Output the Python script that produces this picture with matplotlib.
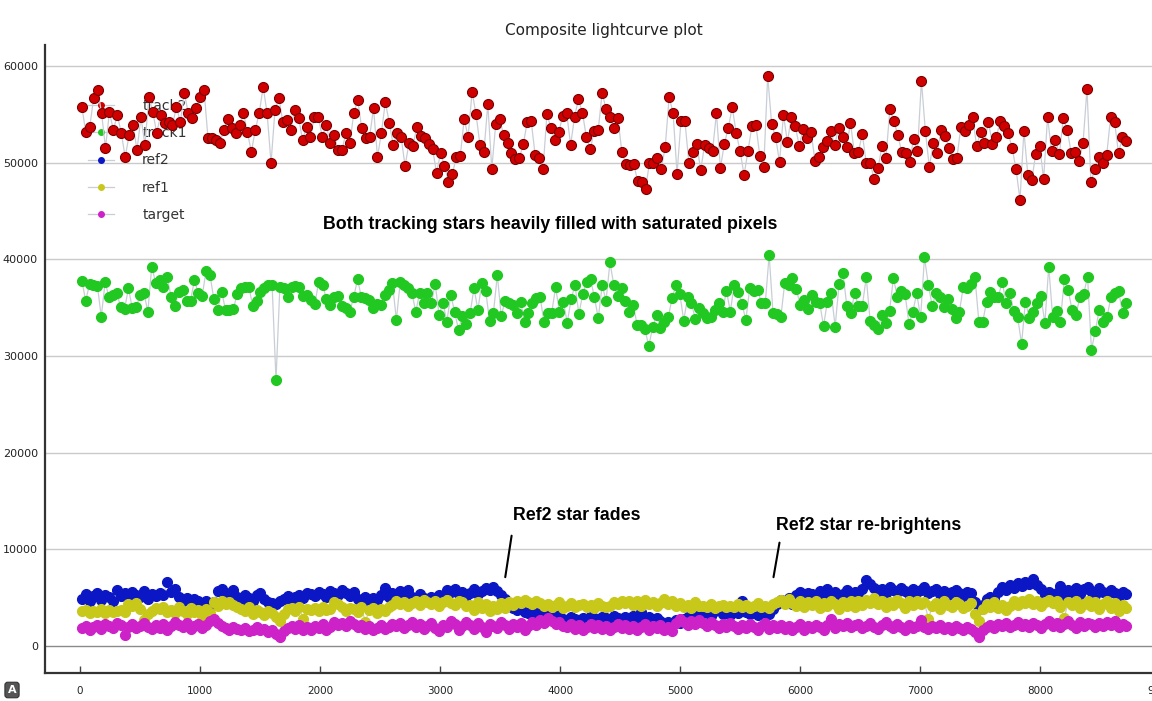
import numpy as np
import matplotlib
matplotlib.use("Agg")
import matplotlib.pyplot as plt
from matplotlib.lines import Line2D

# frame times of first / last exposure (s)
t_first, t_last = 15, 8720

track2 = [
    55760, 53170, 53690, 56690, 57520, 55140, 51520, 55240, 53380, 54930,
    53070, 50580, 52860, 53900, 51310, 54720, 51830, 56790, 55240, 53070,
    54930, 54100, 54200, 53900, 55760, 54200, 57200, 55140, 54620, 55650,
    56790, 57520, 52550, 52550, 52340, 52030, 53380, 54510, 53580, 53070,
    53900, 55140, 53170, 51100, 53380, 55140, 57820, 55140, 49960, 55450,
    56690, 54200, 54410, 53380, 55450, 54620, 52340, 53690, 52650, 54720,
    54720, 52650, 53900, 52030, 52860, 51310, 51310, 53070, 52030, 55140,
    56480, 53580, 52550, 52650, 55650, 50580, 53070, 56280,
    54100, 51830, 53070, 52650, 49650, 52030, 51720, 53690, 52760, 52550,
    51930, 51410, 48930, 51000, 49650, 48000, 48830, 50580, 50690, 54510,
    52650, 57310, 55030, 51830, 51100, 56070, 49340, 54000, 54510, 52860,
    52030, 51000, 50380, 50480, 51930, 54200, 54310, 50790, 50480, 49340,
    55030, 53580, 52340, 53170, 54830, 55140, 51830, 54720, 56580, 55140,
    52650, 51410, 53270, 53380, 57200, 55550, 54720, 53580, 54620, 51100,
    49860, 49760, 49860, 48100, 48000, 47270, 49960, 49960, 50480, 49340,
    51620, 56790, 55140, 48830, 54310, 54310, 49960, 51100, 51930, 49240,
    51830, 51520, 51210, 55140, 49450, 51930, 53580, 55760, 53070, 51210,
    48720, 51210, 53790, 53900, 50690, 49550, 58960, 54000, 52650, 50070,
    54930, 52140, 54720, 53790, 51720, 53480, 52550, 53170, 50170, 50580,
    51620, 52240, 53270, 51830, 53580,
    52650, 51620, 54100, 51000, 51100, 52960, 49960, 49960, 48310, 49450,
    51720, 50480, 55550, 54310, 52860, 51100, 51000, 50070, 52450, 51210,
    58450, 53270, 49550, 52030, 51000, 53380, 52760, 51520, 50380, 50480,
    53690, 53270, 53900, 54720, 51720, 53170, 52030, 54200, 51930, 52650,
    54310, 53790, 53070, 51520, 49340, 46140, 53270, 48720, 48210, 50900,
    51720, 48310, 54720, 51210, 52340, 50900, 54620, 53380, 51000, 51100,
    50170, 52030, 57620, 48000, 49340, 50580, 49960, 50790, 54720, 54200,
    51000, 52650, 52240,
]

track1 = [
    37790, 35720, 37450, 37340, 37280, 34070, 37620, 36070, 36310, 36480,
    35100, 34830, 37000, 34930, 35030, 36310, 36480, 34590, 39240, 37590,
    37860, 37170, 38140, 36070, 35210, 36660, 36830, 35720, 35720, 37860,
    36480, 36210, 38830, 38380, 35860, 34760, 36660, 34760, 34760, 34830,
    36410, 37000, 37170, 37170, 35170, 35720, 36660, 37000, 37340, 37340,
    27520, 37170, 37000, 36070, 37170, 37240, 37170, 36210, 36310, 35790,
    35380, 37690, 37340, 35860, 35280, 36070, 36210, 35170, 34930, 34590,
    36070, 37930, 36070, 35970, 35790, 34930, 35380, 35280, 36310, 36830,
    37520, 33720, 37690, 37340, 37000, 36480, 34590, 36550, 35450, 36550,
    35450, 37450, 34240, 35520, 33550, 36310, 34590, 32690, 34140, 33310,
    34480, 37000, 34760, 37590, 36760, 33620, 34480, 38380, 34140, 35720,
    35520, 35280, 34410, 35620, 33550, 34480, 35450, 35970, 36140, 33550,
    34410, 34480, 37100, 34590, 35620, 33450, 35860, 37340, 34340, 36410,
    37690, 37930, 36070, 33900,
    37340, 35720, 39690, 37340, 36210, 37000, 35720, 34590, 35280, 33210,
    33210, 32760, 31030, 32970, 34240, 32860, 33550, 34000, 35970, 37340,
    36410, 33660, 36070, 35450, 33790, 34930, 34480, 33900, 34000, 34760,
    35520, 34590, 36760, 34590, 37340, 36660, 35380, 33720, 37000, 36760,
    36830, 35520, 35450, 40450, 34410, 34340, 34000, 37520, 37340, 38030,
    36900, 35280, 35790, 34830, 36310, 35620, 35520, 33100, 35620, 36480,
    33030, 37450, 38620, 35170, 34410, 36480, 35170, 35170, 38140, 33660,
    33210, 32760, 34240, 33380, 34690, 38030, 36140, 36760, 36410, 33310,
    34590, 36480, 34000, 40210, 37340, 35170, 36550, 36140, 35100, 35860,
    34830, 33900, 34590, 37170, 37000, 37450, 38140, 33550, 33550, 35620,
    36660, 36140, 36070, 37690, 35520, 36480, 34690, 34000, 31240, 35620,
    33900, 34590, 35450, 36210, 33380, 39240, 34070, 34690, 33550, 37930,
    36830, 34760, 34240, 36070, 36410, 38210, 30620, 32620, 34760, 33550,
    34000, 36070, 36480, 36760, 34410, 35450,
]

ref2 = [
    4900, 5400, 4700, 5200, 5500, 4800, 5300, 5100, 4600, 5800,
    5200, 5500, 5000, 5600, 5300, 5100, 5700, 4900, 5400, 5200,
    5500, 5300, 6600, 5600, 5900, 5100, 4700, 5000, 4500, 4900,
    4700, 4200, 4600, 4000, 4500, 5700, 5900, 5500, 5400, 5800,
    5100, 4700, 5300, 5000, 4600, 5300, 5500, 4900, 4500, 4400,
    4300, 4600, 4900, 5200, 4800, 5100, 5300, 5000, 5500, 5400,
    5200, 5600, 5400, 5100, 5700, 5500, 5300, 5800, 5500, 5200,
    5600, 4900, 4600, 5100, 4700, 5000, 4800, 5300, 6000, 5100,
    5500, 5000, 5700, 5300, 5800, 5100, 4900, 5400, 5000, 4800,
    5100, 4900, 5300, 4700, 5800, 5600, 5900, 5400, 5600, 5200,
    5500, 5900, 5400, 5700, 6000, 5800, 6100, 5700, 5300, 4900,
    4100, 3900, 3700, 3800, 3500, 3400, 3600, 3300, 3500, 3200,
    3300, 3000, 2900, 3200, 2800, 2700, 3000, 2800, 2600, 2900,
    2800, 3100, 2900, 2700, 3000, 2900, 2700, 3100, 2900, 2800,
    3000, 2700, 3100, 2900, 3500, 2800, 3000, 2700, 2900, 2600,
    2300, 2500, 2200, 2700, 2400, 2800, 3000, 3400, 3200, 3500,
    3400, 3700, 3100, 3600, 3800, 3300, 3500, 3200, 3600, 3400,
    4700, 3500, 3300, 3600, 3200, 3400, 3500, 3300, 3800, 4300,
    4800, 4500, 5000, 4300, 5300, 5600, 5200, 5500, 5400, 5100,
    5700, 5400, 5900, 5200, 5600, 5100, 5400, 5800, 5300, 5600,
    5500, 5900, 6800, 6400, 6000, 5700, 5900, 5500, 6100, 5800,
    5600, 6000, 5700, 5400, 5900, 5600, 5800, 6100, 5500, 5700,
    5900, 5400, 5700, 5300, 5600, 5800, 5500, 5200, 5600, 5500,
    4500, 3800, 4200, 4900, 5100, 5000, 5600, 6100, 5800, 6300,
    6000, 6500, 6200, 6600, 6400, 6900, 6300, 5900, 5200, 5600,
    5100, 5500, 6200, 5300, 5800, 5600, 6000, 5400, 5900, 6100,
    5700, 5300, 6000, 5600, 5400, 5800, 5500, 5200, 5600, 5400,
]

ref1 = [
    3600, 3700, 3400, 3600, 3500, 3800, 3400, 3700, 3500, 3600,
    3700, 3500, 4300, 4100, 4400, 3800, 2700, 3300, 3600, 3900,
    3800, 4000, 3500, 3700, 3400, 4000, 3600, 3300, 3900, 3500,
    3700, 3100, 3800, 3400, 4500, 4100, 4700, 4300, 4500, 4200,
    4000, 3800, 3600, 4000, 3300, 3700, 3500, 3200, 3600, 3400,
    3000, 2600, 3300, 3800, 3900, 3600, 4000, 2800, 3800, 3700,
    3900, 3600, 4000, 3700, 3800, 4500, 4300, 4000, 3600, 3900,
    3800, 3500, 4000, 2500, 3700, 3900, 3400, 3800, 3600, 4000,
    4200, 4600, 4300, 4500, 4100, 4400, 4700, 4200, 4800, 4500,
    4300, 4600, 4100, 4500, 4800, 4400, 4200, 4700, 4500, 4100,
    4200, 3700, 4500, 3900, 4300, 3600, 4100, 3800, 4400, 3900,
    4500, 4200, 4700, 4400, 4800, 4500, 4300, 4600, 4400, 4100,
    4300, 4000, 4200, 4500, 3900, 4100, 4400, 4000, 4200, 4300,
    4000, 4200, 3900, 4400, 4100, 4000, 4100, 4500, 4300, 4600,
    4400, 4700, 4200, 4600, 4100, 4800, 4300, 4500, 4100, 4400,
    4900, 4300, 4600, 4100, 4400, 4000, 4200, 3900, 4500, 4100,
    4100, 4000, 4300, 3900, 4100, 4200, 4000, 4100, 4000, 4300,
    4000, 4200, 3900, 4100, 4400, 4000, 4100, 3900, 4300, 4500,
    4800, 4300, 4900, 4400, 4100, 4600, 4000, 4500, 4200, 4700,
    3900, 4400, 4100, 4700, 4300, 3800, 4500, 4100, 4600, 4000,
    4600, 4200, 4800, 4400, 5000, 4300, 4700, 4000, 4500, 4200,
    4800, 4400, 3900, 4600, 4200, 4700, 4300, 4500, 2800, 4100,
    4400, 3800, 4600, 4200, 4000, 4500, 4300, 3900, 4100, 4400,
    3300, 2600, 3800, 4300, 4000, 4500, 3900, 4200, 3700, 4100,
    4600, 4200, 4700, 4400, 4900, 4300, 4600, 4100, 4500, 4800,
    4400, 4700, 4000, 2900, 4500, 4200, 4600, 3900, 4300, 4700,
    4100, 4500, 3800, 4300, 4600, 3900, 4400, 3600, 4200, 3900,
]

target = [
    1900, 2100, 1700, 2000, 2200, 1800, 2300, 2100, 1900, 2400,
    2200, 1100, 2000, 2300, 1900, 2100, 2400, 2000, 1800, 2200,
    1900, 2300, 1700, 2100, 2500, 2200, 2000, 2400, 1800, 2100,
    2300, 1900, 2200, 2600, 2800, 2400, 2100, 1900, 1700, 2000,
    1800, 1600, 1900, 1500, 1700, 2000, 1600, 1800, 1400, 1700,
    1200, 900, 1500, 1900, 2100, 1800, 2200, 1700, 2000, 1600,
    2100, 1900, 2300, 1700, 2000, 2500, 2200, 2400, 2100, 2600,
    2300, 2000, 2200, 1800, 2100, 1600, 1900, 2200, 1800, 2000,
    2300, 2100, 2400, 1900, 2200, 2500, 2000, 2300, 1800, 2100,
    2400, 1900, 1500, 2200, 2000, 2600, 2300, 1700, 2100, 2500,
    2200, 1800, 2400, 2000, 1400, 2300, 2100, 1900, 2500, 2200,
    1800, 2300, 2000, 2400, 1700, 2100, 2500, 2200, 2700, 2400,
    2900, 2600, 2300, 2500, 2100, 2000, 2300, 1800, 2200, 1700,
    2000, 2300, 1900, 2200, 1800, 2100, 1600, 2000, 2300, 1900,
    2200, 1800, 2100, 1600, 2000, 2300, 1700, 2100, 1900, 2200,
    1700, 2000, 1500, 2400, 2800, 2500, 2200, 2600, 2300, 2700,
    2400, 2100, 2500, 2200, 1900, 2300, 2000, 2400, 2100, 1800,
    2200, 1900, 2300, 2000, 1700, 2100, 2400, 1800, 2200, 1900,
    2200, 1800, 2100, 1600, 2000, 2300, 1700, 2100, 1900, 2200,
    2000, 1700, 2200, 2800, 1900, 2300, 2100, 2400, 2000, 2200,
    2300, 1900, 2100, 2400, 2000, 1800, 2200, 2500, 2100, 1900,
    2300, 2000, 1700, 2200, 1900, 2100, 2700, 2000, 1800, 2100,
    1900, 2200, 1800, 2000, 1700, 2100, 1900, 1600, 2000, 1800,
    1400, 900, 1600, 2000, 2200, 1900, 2300, 2100, 2400, 2000,
    2200, 2500, 2100, 2300, 2000, 2400, 2200, 1900, 2300, 2600,
    2100, 2400, 2000, 2300, 2600, 2200, 1900, 2500, 2100, 2400,
    2300, 2000, 2400, 2100, 2500, 2200, 2600, 2000, 2300, 2100,
]

names = ["track2", "track1", "ref2", "ref1", "target"]
series = [track2, track1, ref2, ref1, target]
face = ["#d10000", "#22c822", "#0b16c4", "#c8c81a", "#cc22c8"]
edge = ["#7a0000", "#22c822", "#0b16c4", "#c8c81a", "#cc22c8"]
layer = [7, 6, 3, 4, 5]   # ref2 sits underneath ref1 and target
link_col = "#c9ced6"

fig = plt.figure(figsize=(11.52, 7.01), dpi=100)
ax = fig.add_axes([45 / 1152, 1 - 673 / 701, 1118 / 1152, 628 / 701])

for i in range(len(series)):
    vals = series[i]
    t = np.linspace(t_first, t_last, len(vals))
    ax.plot(t, vals, color=link_col, lw=0.9, marker="o", ms=7.2,
            mfc=face[i], mec=edge[i], mew=0.8, zorder=layer[i])

ax.set_xlim(-292, 9025)
ax.set_ylim(-2800, 62170)
ax.set_xticks(np.arange(0, 9001, 1000))
ax.set_yticks(np.arange(0, 60001, 10000))
ax.tick_params(axis="x", direction="in", length=5, width=1, colors="#444",
               labelsize=7.5, labelcolor="#222", pad=9)
ax.tick_params(axis="y", length=0, labelsize=8, labelcolor="#222", pad=5)
for y in range(10000, 60001, 10000):
    ax.axhline(y, color="#cacaca", lw=1, zorder=1)
ax.axhline(0, color="#8a8a8a", lw=1, zorder=1)
for s in ["top", "right"]:
    ax.spines[s].set_visible(False)
for s in ["left", "bottom"]:
    ax.spines[s].set_color("#333")
    ax.spines[s].set_linewidth(1.6)

handles = [Line2D([], [], color=link_col, lw=0.9, marker="o", ms=4,
                  mfc=face[i], mec=face[i]) for i in range(len(names))]
leg = ax.legend(handles, names, loc="upper left", frameon=False,
                bbox_to_anchor=(88 / 1152, 1 - 99 / 701),
                bbox_transform=fig.transFigure, borderaxespad=0, borderpad=0,
                fontsize=10, handlelength=1.9, handletextpad=2.0,
                labelspacing=0.95, labelcolor="#333")
leg.set_zorder(2)

fig.text(604 / 1152, 1 - 30 / 701, "Composite lightcurve plot",
         ha="center", va="center", fontsize=11, color="#222")

bold = dict(family="Liberation Sans", weight="bold", fontsize=12.8, color="black")
ax.text(2025, 43550, "Both tracking stars heavily filled with saturated pixels",
        ha="left", va="center", zorder=10, **bold)
ax.text(3608, 13450, "Ref2 star fades", ha="left", va="center", zorder=10, **bold)
ax.text(5800, 12410, "Ref2 star re-brightens", ha="left", va="center", zorder=10, **bold)
ax.annotate("", xy=(3540, 6830), xytext=(3600, 11690),
            arrowprops=dict(arrowstyle="-", lw=1.5, color="black"), zorder=10)
ax.annotate("", xy=(5775, 6830), xytext=(5833, 10970),
            arrowprops=dict(arrowstyle="-", lw=1.5, color="black"), zorder=10)

fig.text(12 / 1152, 1 - 690 / 701, "A", ha="center", va="center", fontsize=8,
         weight="bold", color="white",
         bbox=dict(boxstyle="round,pad=0.25", fc="#555", ec="#333", lw=0.8))

fig.savefig("out.png", dpi=100)
